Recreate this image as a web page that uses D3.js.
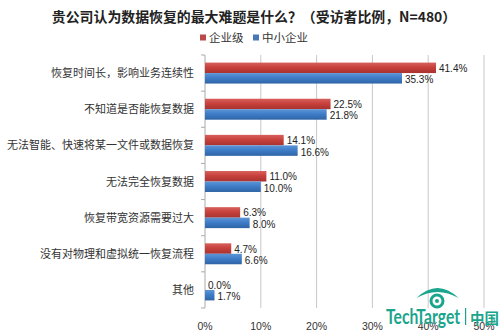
<!DOCTYPE html>
<html><head><meta charset="utf-8">
<script src="https://cdn.jsdelivr.net/npm/d3@7"></script>
<style>body{margin:0;background:#fff}svg{display:block}</style>
</head><body><div id="chart"></div>
<script>
const categories = ["恢复时间长，影响业务连续性","不知道是否能恢复数据","无法智能、快速将某一文件或数据恢复","无法完全恢复数据","恢复带宽资源需要过大","没有对物理和虚拟统一恢复流程","其他"];
const seriesNames = ["企业级","中小企业"];
const enterprise = [41.4,22.5,14.1,11.0,6.3,4.7,0.0];
const smb = [35.3,21.8,16.6,10.0,8.0,6.6,1.7];
const tickValues = [0,10,20,30,40,50];
const title = "贵公司认为数据恢复的最大难题是什么？（受访者比例，N=480）";

const W=500,H=333;
const svg=d3.select("#chart").append("svg").attr("width",W).attr("height",H);
const defs=svg.append("defs");
function grad(id,c1,c2,c3){const g=defs.append("linearGradient").attr("id",id).attr("x1",0).attr("y1",0).attr("x2",0).attr("y2",1);
 g.append("stop").attr("offset","0%").attr("stop-color",c1);
 g.append("stop").attr("offset","45%").attr("stop-color",c2);
 g.append("stop").attr("offset","100%").attr("stop-color",c3);}
grad("gRed","#d7605c","#c8413d","#a8322f");
grad("gBlue","#5d95d6","#3f7dc8","#2f64a6");
const fills=["url(#gRed)","url(#gBlue)"];
const legendColors=["#b94a48","#4a78b5"];

const x=d3.scaleLinear().domain([0,50]).range([205,484]);
const y=d3.scaleBand().domain(categories).range([55,308]).paddingInner(0.42).paddingOuter(0.21);
const y1=d3.scaleBand().domain(seriesNames).range([0,y.bandwidth()]);

// title
svg.append("text").attr("x",254).attr("y",22).attr("text-anchor","middle")
 .attr("font-family","Noto Sans CJK SC").attr("font-weight","bold").attr("font-size",13.9).attr("fill","#222").text(title);

// legend
const lg=svg.append("g").attr("font-family","Noto Sans CJK SC").attr("font-size",11.5).attr("fill","#333");
const lx=[200,253];
seriesNames.forEach((s,i)=>{
 lg.append("rect").attr("x",lx[i]).attr("y",34.5).attr("width",6).attr("height",6).attr("fill",legendColors[i]);
 lg.append("text").attr("x",lx[i]+9).attr("y",41.5).text(s);
});

// gridlines
const grid=svg.append("g");
grid.selectAll("line").data(tickValues.slice(1)).join("line")
 .attr("x1",d=>x(d)).attr("x2",d=>x(d)).attr("y1",55).attr("y2",308)
 .attr("stroke","#c8c8c8").attr("stroke-width",1);

// y axis line + ticks
const ax=svg.append("g").attr("transform","translate(205,0)");
ax.append("line").attr("x1",0).attr("x2",0).attr("y1",55).attr("y2",308).attr("stroke","#aaa");
const bounds=categories.map(c=>y(c)-y.step()*y.paddingInner()/2);
bounds.push(308);
ax.selectAll("line.t").data(bounds).join("line").attr("class","t")
 .attr("x1",-4).attr("x2",0).attr("y1",d=>d).attr("y2",d=>d).attr("stroke","#aaa");

// category labels (right edge at 194)
svg.append("g").selectAll("text").data(categories).join("text")
 .attr("y",c=>y(c)+y.bandwidth()/2+4)
 .attr("font-family","Noto Sans CJK SC").attr("font-size",11).attr("fill","#333").text(d=>d)
 .each(function(){
   const s=d3.select(this);
   let len=this.getComputedTextLength();
   if(len>187){ s.attr("textLength",187).attr("lengthAdjust","spacingAndGlyphs"); len=187; }
   s.attr("x",194-len);
 });

// x tick labels
svg.append("g").selectAll("text").data(tickValues).join("text")
 .attr("x",d=>x(d)).attr("y",330).attr("text-anchor","middle")
 .attr("font-family","Liberation Sans, Arial").attr("font-size",10.5).attr("fill","#333").text(d=>d+"%");

// bars
const data=[enterprise,smb];
const barsG=svg.append("g");
categories.forEach((c,ci)=>{
 seriesNames.forEach((s,si)=>{
  const v=data[si][ci];
  const yy=y(c)+y1(s);
  barsG.append("rect").attr("x",x(0)).attr("y",yy).attr("width",x(v)-x(0)).attr("height",y1.bandwidth())
   .attr("fill",fills[si]);
  barsG.append("text").attr("x",x(v)+3).attr("y",yy+y1.bandwidth()/2+(si===0?4:5))
   .attr("font-family","Liberation Sans, Arial").attr("font-size",10).attr("fill","#222").text(v.toFixed(1)+"%");
 });
});

// watermark logo
const teal="#1ba58c";
const logo=svg.append("g").attr("fill",teal);
logo.append("path").attr("d","M416.5,298 Q437.5,278 458.5,298 Q437.5,286 416.5,298 Z");
logo.append("circle").attr("cx",437).attr("cy",301).attr("r",6).attr("fill","none").attr("stroke",teal).attr("stroke-width",3);
logo.append("circle").attr("cx",437).attr("cy",301).attr("r",2);
logo.append("text").attr("x",386).attr("y",324).attr("font-family","Lato, Open Sans").attr("font-weight","bold").attr("font-size",20)
 .attr("textLength",74).attr("lengthAdjust","spacingAndGlyphs").text("TechTarget");
logo.append("rect").attr("x",465).attr("y",308).attr("width",1.2).attr("height",17);
logo.append("text").attr("x",470).attr("y",324).attr("font-family","Noto Sans CJK SC").attr("font-weight","bold").attr("font-size",14.5).text("中国");
</script></body></html>
